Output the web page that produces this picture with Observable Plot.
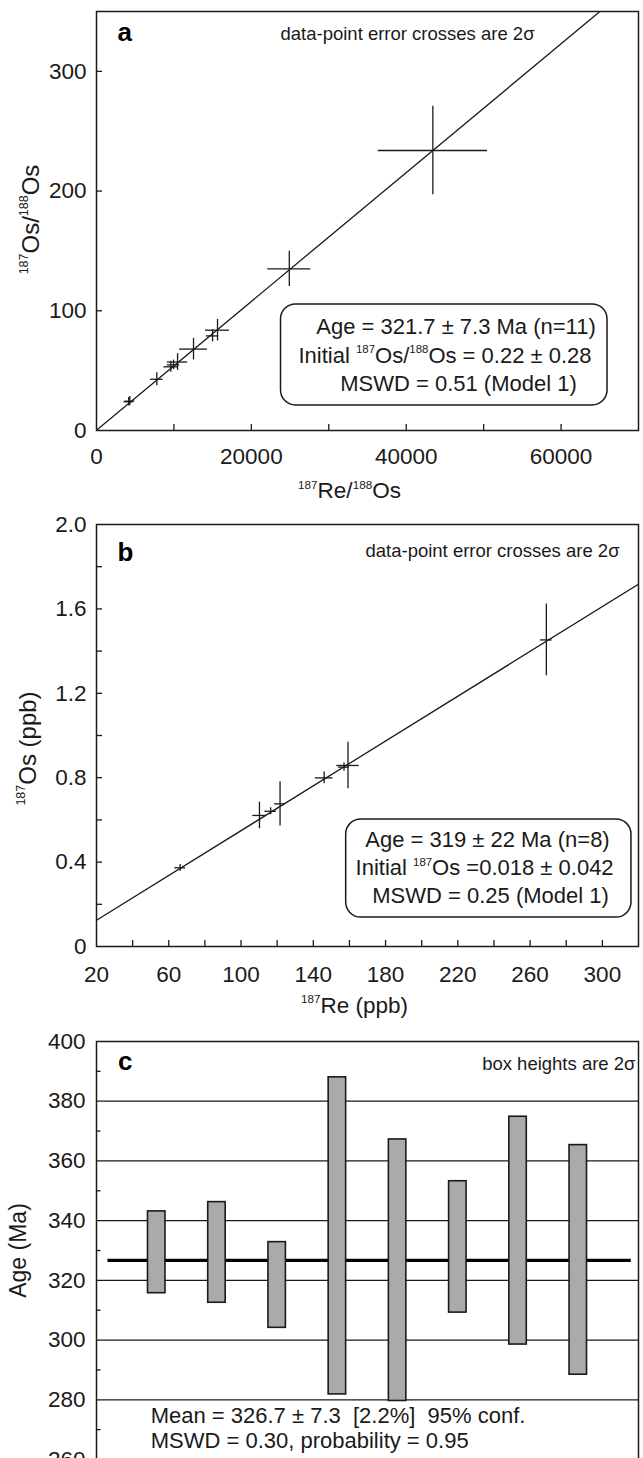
<!DOCTYPE html>
<html><head><meta charset="utf-8">
<script src="https://cdn.jsdelivr.net/npm/d3@7"></script>
<script src="https://cdn.jsdelivr.net/npm/@observablehq/plot@0.6"></script>
<style>
html,body{margin:0;padding:0;background:#fff;width:643px;height:1458px;overflow:hidden;}
#wrap{position:relative;width:643px;height:1458px;overflow:hidden;background:#fff;}
#wrap svg{position:absolute;left:0;overflow:visible;max-width:none;}
#wrap svg text{white-space:pre;}
</style></head><body><div id="wrap"></div>
<script>
// ---------- Panel a: 187Re/188Os vs 187Os/188Os isochron ----------
const aReOs   = [4150, 4300, 7790, 9600, 9950, 10470, 12530, 14990, 15630, 24900, 43440];
const aOsOs   = [24.0, 24.5, 42.8, 53.2, 54.8, 57.2, 68.0, 79.0, 83.8, 135.0, 233.9];
const aReErr  = [600, 650, 820, 900, 800, 1300, 1800, 800, 1550, 2780, 7050];
const aOsErr  = [3.5, 3.8, 5.5, 4.6, 4.0, 7.0, 9.0, 5.0, 9.0, 14.8, 37.0];
const aFit    = {intercept: 0.22, slope: 0.00538};
const aXLabels = [0, 20000, 40000, 60000];
const aXTicks  = [10000, 20000, 30000, 40000, 50000, 60000];
const aYLabels = [0, 100, 200, 300];
const aYTicks  = [100, 200, 300];
const aBoxText = ["Age = 321.7 ± 7.3 Ma (n=11)", "Initial ^187Os/^188Os = 0.22 ± 0.28", "MSWD = 0.51 (Model 1)"];

// ---------- Panel b: 187Re vs 187Os ----------
const bRe     = [66.3, 110.2, 116.4, 121.6, 146.0, 157.0, 159.2, 269.0];
const bOs     = [0.373, 0.621, 0.641, 0.676, 0.799, 0.850, 0.858, 1.453];
const bReErr  = [3.0, 3.7, 3.2, 3.0, 4.9, 3.0, 6.2, 3.2];
const bOsErr  = [0.016, 0.063, 0.016, 0.105, 0.028, 0.020, 0.110, 0.170];
const bFit    = {intercept: 0.018, slope: 0.00531};
const bXLabels = [20, 60, 100, 140, 180, 220, 260, 300];
const bXTicks  = [40, 60, 80, 100, 120, 140, 160, 180, 200, 220, 240, 260, 280, 300];
const bYLabels = [0, 0.4, 0.8, 1.2, 1.6, 2.0];
const bYTicks  = [0.2, 0.4, 0.6, 0.8, 1.0, 1.2, 1.4, 1.6, 1.8];
const bBoxText = ["Age = 319 ± 22 Ma (n=8)", "Initial ^187Os =0.018 ± 0.042", "MSWD = 0.25 (Model 1)"];

// ---------- Panel c: weighted mean of model ages ----------
const cSample = [1, 2, 3, 4, 5, 6, 7, 8];
const cAge    = [329.4, 329.35, 318.45, 334.9, 323.4, 331.2, 336.65, 326.85];
const cErr2s  = [13.7, 16.85, 14.35, 53.1, 43.8, 22.0, 38.15, 38.45];
const cMean   = 326.7;
const cYLabels = [260, 280, 300, 320, 340, 360, 380, 400];
const cYMinor  = [270, 290, 310, 330, 350, 370, 390];
const cGrid    = [280, 300, 320, 340, 360, 380];
const cText    = ["Mean = 326.7 ± 7.3  [2.2%]  95% conf.", "MSWD = 0.30, probability = 0.95"];

const FONT = "'Liberation Sans', Arial, Helvetica, sans-serif";
const INK = "#1a1a1a";
const W = 643, ML = 96, MR = 5;
const FW = W - ML - MR;
const TICKFS = 22.5, BOXFS = 22, NOTEFS = 18.5;

function supify(svg) {
  const NS = "http://www.w3.org/2000/svg";
  svg.querySelectorAll("text").forEach(t => {
    const targets = t.querySelector("tspan") ? [...t.querySelectorAll("tspan")] : [t];
    targets.forEach(el => {
      const s = el.textContent;
      if (!s.includes("^")) return;
      const fs = parseFloat(getComputedStyle(el).fontSize) || 20;
      const parts = s.split(/\^(\d+)/);
      el.textContent = "";
      let raised = false;
      parts.forEach((p, i) => {
        if (!p) return;
        const ts = document.createElementNS(NS, "tspan");
        ts.textContent = p;
        if (i % 2) {
          ts.setAttribute("font-size", (fs * 0.52).toFixed(2) + "px");
          if (!raised) ts.setAttribute("dy", (-fs * 0.42).toFixed(2));
          raised = true;
        } else if (raised) {
          ts.setAttribute("dy", (fs * 0.42).toFixed(2));
          raised = false;
        }
        el.appendChild(ts);
      });
    });
  });
}

const wrap = document.getElementById("wrap");
function place(svg, top) {
  svg.style.top = top + "px";
  wrap.appendChild(svg);
  supify(svg);
}
const style = {fontFamily: FONT, fontSize: TICKFS + "px", color: INK, background: "transparent", overflow: "visible"};

// ---------------- Panel a ----------------
{
  const H = 500, MT = 11, MB = 70;
  const FH = H - MT - MB;
  const pts = aReOs.map((x, i) => ({x, y: aOsOs[i], ex: aReErr[i], ey: aOsErr[i]}));
  const fit = [0, 70000].map(x => ({x, y: aFit.intercept + aFit.slope * x}));
  const chart = Plot.plot({
    width: W, height: H, marginLeft: ML, marginRight: MR, marginTop: MT, marginBottom: MB,
    x: {domain: [0, 70000], axis: null},
    y: {domain: [0, 350], axis: null},
    style,
    marks: [
      Plot.line(fit, {x: "x", y: "y", stroke: INK, strokeWidth: 1.3, clip: true}),
      Plot.ruleY(pts, {y: "y", x1: d => d.x - d.ex, x2: d => d.x + d.ex, stroke: INK, strokeWidth: 1.3}),
      Plot.ruleX(pts, {x: "x", y1: d => d.y - d.ey, y2: d => d.y + d.ey, stroke: INK, strokeWidth: 1.3}),
      Plot.rect([0], {x1: 23830, x2: 66000, y1: 20.9, y2: 105.3, rx: 15, fill: "white", stroke: INK, strokeWidth: 1.5}),
      Plot.text(aBoxText, {x: [46430, 45010, 46750], y: [81.0, 56.8, 33.4], text: d => d, fontSize: BOXFS, lineAnchor: "bottom", textAnchor: "middle", fill: INK}),
      Plot.text(["data-point error crosses are 2σ"], {x: [40170], y: [325.8], text: d => d, fontSize: NOTEFS, lineAnchor: "bottom", fill: INK}),
      Plot.text(["a"], {x: [2712], y: [325], text: d => d, fontSize: 26, fontWeight: "bold", lineAnchor: "bottom", textAnchor: "start", fill: "#000"}),
      Plot.tickX(aXTicks, {x: d => d, insetTop: FH - 6, stroke: INK, strokeWidth: 1.3}),
      Plot.tickY(aYTicks, {y: d => d, insetRight: FW - 6, stroke: INK, strokeWidth: 1.3}),
      Plot.axisX({ticks: aXLabels, tickSize: 0, tickPadding: 18, tickFormat: d => String(d), fontSize: TICKFS, label: null}),
      Plot.axisY({ticks: aYLabels, tickSize: 0, tickPadding: 10, tickFormat: d => String(d), fontSize: TICKFS, label: null}),
      Plot.text(["^187Re/^188Os"], {frameAnchor: "bottom", dx: -18, dy: 67.7, text: d => d, fontSize: 22.5, lineAnchor: "bottom", textAnchor: "middle", fill: INK}),
      Plot.text(["^187Os/^188Os"], {frameAnchor: "left", dx: -58, dy: -1.5, rotate: -90, text: d => d, fontSize: 24, lineAnchor: "bottom", textAnchor: "middle", fill: INK}),
      Plot.frame({stroke: INK, strokeWidth: 1.5})
    ]
  });
  place(chart, 0);
}

// ---------------- Panel b ----------------
{
  const H = 530, MT = 24, MB = 84;
  const FH = H - MT - MB;
  const pts = bRe.map((x, i) => ({x, y: bOs[i], ex: bReErr[i], ey: bOsErr[i]}));
  const fit = [20, 320].map(x => ({x, y: bFit.intercept + bFit.slope * x}));
  const chart = Plot.plot({
    width: W, height: H, marginLeft: ML, marginRight: MR, marginTop: MT, marginBottom: MB,
    x: {domain: [20, 320], axis: null},
    y: {domain: [0, 2], axis: null},
    style,
    marks: [
      Plot.line(fit, {x: "x", y: "y", stroke: INK, strokeWidth: 1.3, clip: true}),
      Plot.ruleY(pts, {y: "y", x1: d => d.x - d.ex, x2: d => d.x + d.ex, stroke: INK, strokeWidth: 1.3}),
      Plot.ruleX(pts, {x: "x", y1: d => d.y - d.ey, y2: d => d.y + d.ey, stroke: INK, strokeWidth: 1.3}),
      Plot.rect([0], {x1: 158.2, x2: 316.1, y1: 0.137, y2: 0.602, rx: 15, fill: "white", stroke: INK, strokeWidth: 1.5}),
      Plot.text(bBoxText, {x: [236.4, 234.8, 238.1], y: [0.4706, 0.3365, 0.2038], text: d => d, fontSize: BOXFS, lineAnchor: "bottom", textAnchor: "middle", fill: INK}),
      Plot.text(["data-point error crosses are 2σ"], {x: [239.2], y: [1.848], text: d => d, fontSize: NOTEFS, lineAnchor: "bottom", fill: INK}),
      Plot.text(["b"], {x: [31.6], y: [1.829], text: d => d, fontSize: 26, fontWeight: "bold", lineAnchor: "bottom", textAnchor: "start", fill: "#000"}),
      Plot.tickX(bXTicks, {x: d => d, insetTop: FH - 6, stroke: INK, strokeWidth: 1.3}),
      Plot.tickY(bYTicks, {y: d => d, insetRight: FW - 6, stroke: INK, strokeWidth: 1.3}),
      Plot.axisX({ticks: bXLabels, tickSize: 0, tickPadding: 20, tickFormat: d => String(d), fontSize: TICKFS, label: null}),
      Plot.axisY({ticks: bYLabels, tickSize: 0, tickPadding: 10, tickFormat: d => d === 0 ? "0" : d.toFixed(1), fontSize: TICKFS, label: null}),
      Plot.text(["^187Re (ppb)"], {frameAnchor: "bottom", dx: -13, dy: 66, text: d => d, fontSize: 22.5, lineAnchor: "bottom", textAnchor: "middle", fill: INK}),
      Plot.text(["^187Os (ppb)"], {frameAnchor: "left", dx: -61, dy: 13, rotate: -90, text: d => d, fontSize: 24, lineAnchor: "bottom", textAnchor: "middle", fill: INK}),
      Plot.frame({stroke: INK, strokeWidth: 1.5})
    ]
  });
  place(chart, 500);
}

// ---------------- Panel c ----------------
{
  const H = 470, MT = 11, MB = 41;
  const FH = H - MT - MB;
  const boxes = cSample.map((s, i) => ({s, lo: cAge[i] - cErr2s[i], hi: cAge[i] + cErr2s[i]}));
  const chart = Plot.plot({
    width: W, height: H, marginLeft: ML, marginRight: MR, marginTop: MT, marginBottom: MB,
    x: {domain: [0, 9], axis: null},
    y: {domain: [260, 400], axis: null},
    style,
    marks: [
      Plot.ruleY(cGrid, {y: d => d, stroke: INK, strokeWidth: 1.3}),
      Plot.ruleY([cMean], {y: d => d, x1: 0.19, x2: 8.88, stroke: "#000", strokeWidth: 3.2}),
      Plot.rect(boxes, {x1: d => d.s - 0.145, x2: d => d.s + 0.145, y1: "lo", y2: "hi", fill: "#aaaaaa", stroke: INK, strokeWidth: 1.6}),
      Plot.text(["c"], {x: [0.357], y: [390.3], text: d => d, fontSize: 26, fontWeight: "bold", lineAnchor: "bottom", textAnchor: "start", fill: "#000"}),
      Plot.text(["box heights are 2σ"], {x: [8.95], y: [390.3], text: d => d, fontSize: NOTEFS, lineAnchor: "bottom", textAnchor: "end", fill: INK}),
      Plot.text(cText, {x: [0.9, 0.9], y: [272.2, 263.8], text: d => d, fontSize: 22, lineAnchor: "bottom", textAnchor: "start", fill: INK}),
      Plot.tickY(cYMinor, {y: d => d, insetRight: FW - 4.5, stroke: INK, strokeWidth: 1.3}),
      Plot.axisY({ticks: cYLabels, tickSize: 0, tickPadding: 11, tickFormat: d => String(d), fontSize: TICKFS, label: null}),
      Plot.text(["Age (Ma)"], {frameAnchor: "left", dx: -71, dy: 0, rotate: -90, text: d => d, fontSize: 23, lineAnchor: "bottom", textAnchor: "middle", fill: INK}),
      Plot.frame({stroke: INK, strokeWidth: 1.5})
    ]
  });
  place(chart, 1030);
}
</script>
</body></html>
